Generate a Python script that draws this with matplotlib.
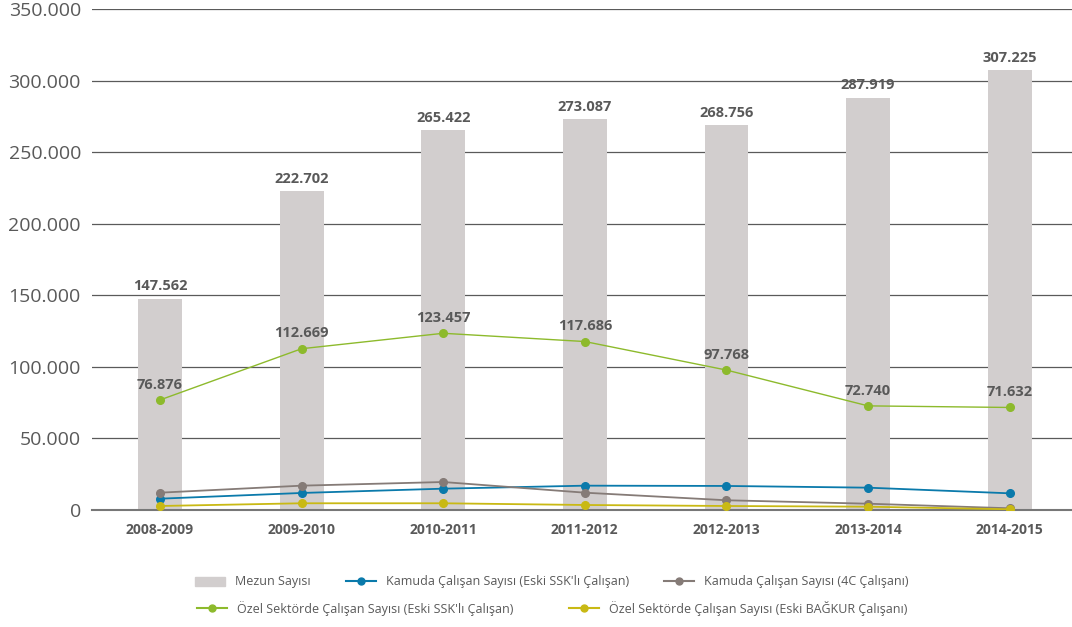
import matplotlib
matplotlib.use("Agg")
import matplotlib.pyplot as plt
from matplotlib.patches import Patch
from matplotlib.lines import Line2D

plt.rcParams['font.family'] = ['Open Sans', 'DejaVu Sans']

# data
years = ["2008-2009", "2009-2010", "2010-2011", "2011-2012", "2012-2013", "2013-2014", "2014-2015"]
mezun = [147562, 222702, 265422, 273087, 268756, 287919, 307225]
ozel_ssk = [76876, 112669, 123457, 117686, 97768, 72740, 71632]
kamu_ssk = [7900, 11900, 14900, 17000, 16800, 15600, 11650]
kamu_4c = [12100, 17000, 19550, 12100, 6800, 4400, 1200]
ozel_bagkur = [2800, 4700, 4700, 3500, 2800, 2300, 500]
yticks = [0, 50000, 100000, 150000, 200000, 250000, 300000, 350000]

c_bar = "#D2CECE"
c_blue = "#0A7AAB"
c_grey = "#857B77"
c_green = "#8DBA2C"
c_yellow = "#C9B914"
c_text = "#595959"


def fmt(v):
    return "{:,}".format(v).replace(",", ".")


fig = plt.figure(figsize=(10.72, 6.27), dpi=100)
ax = fig.add_axes([92 / 1072, 117 / 627, 980 / 1072, 501 / 627])

x = list(range(len(years)))

ax.bar(x, mezun, width=0.31, color=c_bar, zorder=2)
for xi, v in zip(x, mezun):
    ax.annotate(fmt(v), (xi, v), xytext=(0, 4), textcoords="offset points",
                ha="center", va="bottom", fontsize=10.5, fontweight="bold", color=c_text)

ax.plot(x, kamu_ssk, color=c_blue, marker="o", ms=5.5, lw=1.3, zorder=4)
ax.plot(x, kamu_4c, color=c_grey, marker="o", ms=5.5, lw=1.3, zorder=4)
ax.plot(x, ozel_bagkur, color=c_yellow, marker="o", ms=5.5, lw=1.3, zorder=4)
ax.plot(x, ozel_ssk, color=c_green, marker="o", ms=5.5, lw=1.0, zorder=4)
for xi, v in zip(x, ozel_ssk):
    ax.annotate(fmt(v), (xi, v), xytext=(0, 6), textcoords="offset points",
                ha="center", va="bottom", fontsize=10.5, fontweight="bold", color=c_text)

ax.set_xlim(-0.48, 6.44)
ax.set_ylim(0, 350000)
ax.set_yticks(yticks)
ax.set_yticklabels([fmt(v) for v in yticks], fontsize=14, color=c_text)
ax.set_xticks(x)
ax.set_xticklabels(years, fontsize=10, fontweight="bold", color=c_text)
ax.tick_params(axis="both", length=0)
ax.tick_params(axis="x", pad=9)
ax.tick_params(axis="y", pad=8)
ax.grid(axis="y", color="#5a5a5a", lw=0.9, zorder=0)
for s in ["top", "right", "left"]:
    ax.spines[s].set_visible(False)
ax.spines["bottom"].set_color("#777777")
ax.spines["bottom"].set_linewidth(1.5)

h1 = [Patch(color=c_bar, label="Mezun Sayısı"),
      Line2D([], [], color=c_blue, marker="o", ms=5, label="Kamuda Çalışan Sayısı (Eski SSK'lı Çalışan)"),
      Line2D([], [], color=c_grey, marker="o", ms=5, label="Kamuda Çalışan Sayısı (4C Çalışanı)")]
h2 = [Line2D([], [], color=c_green, marker="o", ms=5, label="Özel Sektörde Çalışan Sayısı (Eski SSK'lı Çalışan)"),
      Line2D([], [], color=c_yellow, marker="o", ms=5, label="Özel Sektörde Çalışan Sayısı (Eski BAĞKUR Çalışanı)")]
fig.legend(handles=h1, loc="center", bbox_to_anchor=(0.515, 1 - 582 / 627), ncol=3,
           frameon=False, fontsize=9, labelcolor=c_text, columnspacing=2.8, handlelength=2.4)
fig.legend(handles=h2, loc="center", bbox_to_anchor=(0.515, 1 - 608 / 627), ncol=2,
           frameon=False, fontsize=9, labelcolor=c_text, columnspacing=4.5, handlelength=2.4)

fig.savefig("out.png", dpi=100)
